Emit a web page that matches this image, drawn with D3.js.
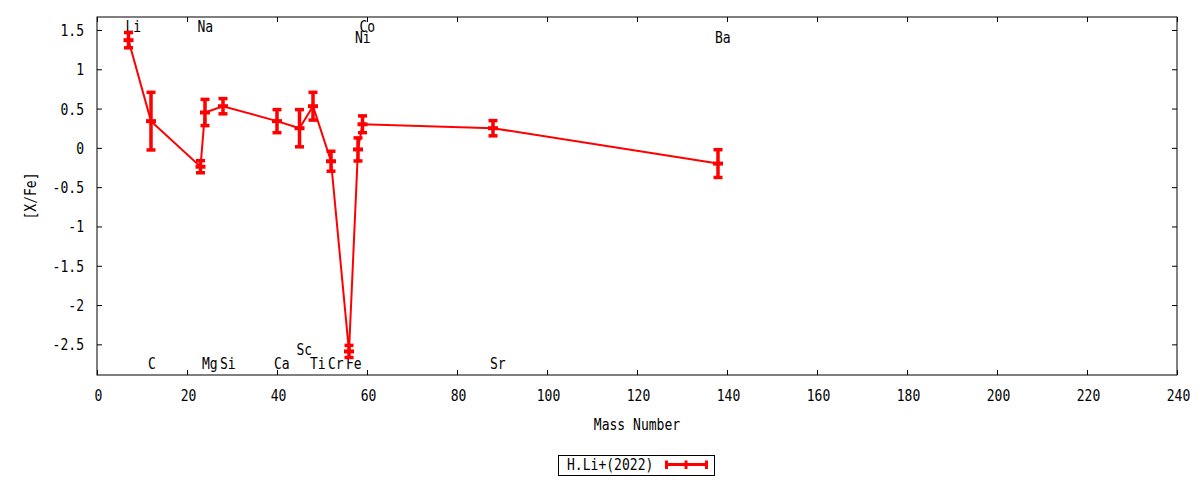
<!DOCTYPE html>
<html>
<head>
<meta charset="utf-8">
<script src="https://cdn.jsdelivr.net/npm/d3@7"></script>
<style>
  body { margin: 0; background: #fff; }
  text { font-family: "DejaVu Sans Mono", monospace; font-size: 15px; fill: #000; }
</style>
</head>
<body>
<div id="chart"></div>
<script>
// chart values
const elements = ["Li", "C", "Na", "Mg", "Si", "Ca", "Sc", "Ti", "Cr", "Fe", "Ni", "Co", "Sr", "Ba"];
const massNumber = [7, 12, 23, 24, 28, 40, 45, 48, 52, 56, 58, 59, 88, 138];
const xFe = [1.37, 0.34, -0.24, 0.45, 0.53, 0.34, 0.25, 0.53, -0.17, -2.59, -0.02, 0.30, 0.25, -0.20];
const xFeErr = [0.10, 0.37, 0.08, 0.17, 0.10, 0.15, 0.24, 0.18, 0.13, 0.08, 0.15, 0.11, 0.10, 0.18];

// element name labels (mass, [X/Fe] position)
const labelNames = ["Li", "C", "Na", "Mg", "Si", "Ca", "Sc", "Ti", "Cr", "Fe", "Ni", "Co", "Sr", "Ba"];
const labelX = [7, 12, 23, 24, 28, 40, 45, 48, 52, 56, 58, 59, 88, 138];
const labelY = [1.54, -2.74, 1.54, -2.74, -2.74, -2.74, -2.56, -2.74, -2.74, -2.74, 1.41, 1.54, -2.74, 1.41];

const xTicks = d3.range(0, 241, 20);
const yTicks = [1.5, 1, 0.5, 0, -0.5, -1, -1.5, -2, -2.5];
const seriesName = "H.Li+(2022)";

const width = 1200;
const height = 480;
const margin = {left: 97, right: 23, top: 17, bottom: 105};
const red = "#ff0000";
const squash = 0.87; // narrow the mono font like the original

const svg = d3.select("#chart")
  .append("svg")
  .attr("width", width)
  .attr("height", height);

const x = d3.scaleLinear()
  .domain([0, 240])
  .range([margin.left, width - margin.right]);

const y = d3.scaleLinear()
  .domain([-2.89, 1.665])
  .range([height - margin.bottom, margin.top]);

const fmt = d => String(d);

// axes, ticks pointing inward on all four sides
const gx = svg.append("g")
  .attr("transform", `translate(0,${height - margin.bottom})`)
  .call(d3.axisBottom(x).tickValues(xTicks).tickFormat(fmt).tickSizeInner(-5).tickSizeOuter(0));
gx.selectAll("text").attr("y", 26).attr("dy", null).attr("transform", `translate(1,0) scale(${squash},1)`);

const gy = svg.append("g")
  .attr("transform", `translate(${margin.left},0)`)
  .call(d3.axisLeft(y).tickValues(yTicks).tickFormat(fmt).tickSizeInner(-5).tickSizeOuter(0));
gy.selectAll("text").attr("x", -13 / squash).attr("dy", "5.5").attr("transform", `scale(${squash},1)`);

svg.append("g")
  .attr("transform", `translate(0,${margin.top})`)
  .call(d3.axisTop(x).tickValues(xTicks).tickFormat("").tickSizeInner(-5).tickSizeOuter(0));

svg.append("g")
  .attr("transform", `translate(${width - margin.right},0)`)
  .call(d3.axisRight(y).tickValues(yTicks).tickFormat("").tickSizeInner(-5).tickSizeOuter(0));

svg.selectAll(".domain").remove();
svg.selectAll(".tick line").attr("stroke", "#000");
svg.selectAll(".tick text").style("font-size", "15px").style("font-family", "DejaVu Sans Mono");

svg.append("rect")
  .attr("x", margin.left)
  .attr("y", margin.top)
  .attr("width", width - margin.left - margin.right)
  .attr("height", height - margin.top - margin.bottom)
  .attr("fill", "none")
  .attr("stroke", "#000")
  .attr("stroke-width", 1);

// axis titles
svg.append("text")
  .attr("transform", `translate(${(x(0) + x(240)) / 2},430) scale(${squash},1)`)
  .attr("text-anchor", "middle")
  .text("Mass Number");

svg.append("text")
  .attr("transform", `translate(36,${(y.range()[0] + y.range()[1]) / 2}) rotate(-90) scale(${squash},1)`)
  .attr("text-anchor", "middle")
  .text("[X/Fe]");

// element labels
svg.append("g")
  .selectAll("text")
  .data(labelNames)
  .join("text")
  .attr("transform", (d, i) => `translate(${x(labelX[i]) - 3},${y(labelY[i]) + 5.5}) scale(${squash},1)`)
  .text(d => d);

// data
const pts = elements.map((e, i) => ({m: massNumber[i], v: xFe[i], e: xFeErr[i]}));

svg.append("path")
  .datum(pts)
  .attr("fill", "none")
  .attr("stroke", red)
  .attr("stroke-width", 2)
  .attr("d", d3.line().x(d => x(d.m)).y(d => y(d.v)));

const bars = svg.append("g").attr("fill", red);

bars.selectAll(".bar")
  .data(pts)
  .join("rect")
  .attr("class", "bar")
  .attr("x", d => x(d.m) - 1.75)
  .attr("y", d => y(d.v + d.e))
  .attr("width", 3.5)
  .attr("height", d => y(d.v - d.e) - y(d.v + d.e));

bars.selectAll(".capTop")
  .data(pts)
  .join("rect")
  .attr("class", "capTop")
  .attr("x", d => x(d.m) - 4.5)
  .attr("y", d => y(d.v + d.e) - 1.5)
  .attr("width", 9)
  .attr("height", 3.5);

bars.selectAll(".capBot")
  .data(pts)
  .join("rect")
  .attr("class", "capBot")
  .attr("x", d => x(d.m) - 4.5)
  .attr("y", d => y(d.v - d.e) - 2)
  .attr("width", 9)
  .attr("height", 3.5);

bars.selectAll(".mid")
  .data(pts)
  .join("rect")
  .attr("class", "mid")
  .attr("x", d => x(d.m) - 5)
  .attr("y", d => y(d.v) - 2)
  .attr("width", 10)
  .attr("height", 4);

// legend
const leg = svg.append("g");
leg.append("rect")
  .attr("x", 558.5).attr("y", 455.5)
  .attr("width", 156).attr("height", 20)
  .attr("fill", "#fff").attr("stroke", "#000");
leg.append("text")
  .attr("transform", `translate(567,470) scale(${squash},1)`)
  .text(seriesName);
leg.append("rect")
  .attr("x", 665).attr("y", 463).attr("width", 43).attr("height", 3).attr("fill", red);
[665, 684.5, 705].forEach(px => {
  leg.append("rect")
    .attr("x", px).attr("y", 460.5).attr("width", 3).attr("height", 8.5).attr("fill", red);
});
</script>
</body>
</html>
